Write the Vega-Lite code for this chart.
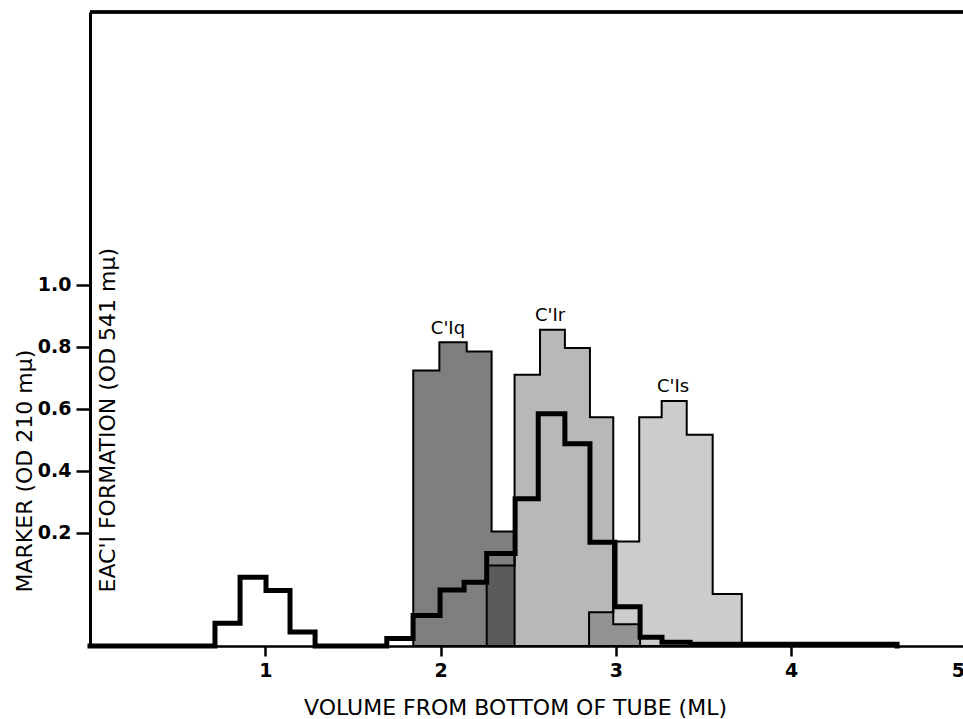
{
  "$schema": "https://vega.github.io/schema/vega-lite/v6.json",
  "width": 873,
  "height": 634,
  "autosize": {"type": "none"},
  "padding": {"left": 90, "top": 12, "right": 0, "bottom": 73},
  "background": "white",
  "config": {
    "view": {"stroke": null},
    "axis": {"grid": false, "domainColor": "black", "tickColor": "black", "labelColor": "black", "titleColor": "black", "labelFont": "DejaVu Sans", "titleFont": "DejaVu Sans"},
    "text": {"font": "DejaVu Sans"}
  },
  "datasets": {
    "bins": [
      {"series": "C'Iq", "x": 1.844, "h": 0.889},
      {"series": "C'Iq", "x": 1.993, "h": 0.98},
      {"series": "C'Iq", "x": 2.149, "h": 0.95},
      {"series": "C'Iq", "x": 2.291, "h": 0.369},
      {"series": "C'Iq", "x": 2.422, "h": 0},
      {"series": "C'Ir", "x": 2.263, "h": 0.26},
      {"series": "C'Ir", "x": 2.422, "h": 0.875},
      {"series": "C'Ir", "x": 2.567, "h": 1.02},
      {"series": "C'Ir", "x": 2.709, "h": 0.961},
      {"series": "C'Ir", "x": 2.852, "h": 0.738},
      {"series": "C'Ir", "x": 2.985, "h": 0.07},
      {"series": "C'Ir", "x": 3.138, "h": 0},
      {"series": "C'Is", "x": 2.847, "h": 0.109},
      {"series": "C'Is", "x": 2.985, "h": 0.337},
      {"series": "C'Is", "x": 3.133, "h": 0.738},
      {"series": "C'Is", "x": 3.261, "h": 0.79},
      {"series": "C'Is", "x": 3.404, "h": 0.681},
      {"series": "C'Is", "x": 3.552, "h": 0.168},
      {"series": "C'Is", "x": 3.718, "h": 0}
    ],
    "marker": [
      {"x": 0, "h": 0},
      {"x": 0.713, "h": 0.073},
      {"x": 0.856, "h": 0.222},
      {"x": 1.004, "h": 0.179},
      {"x": 1.141, "h": 0.045},
      {"x": 1.284, "h": 0},
      {"x": 1.693, "h": 0.024},
      {"x": 1.843, "h": 0.098},
      {"x": 1.997, "h": 0.181},
      {"x": 2.134, "h": 0.206},
      {"x": 2.263, "h": 0.298},
      {"x": 2.425, "h": 0.475},
      {"x": 2.557, "h": 0.749},
      {"x": 2.709, "h": 0.652},
      {"x": 2.852, "h": 0.335},
      {"x": 2.995, "h": 0.127},
      {"x": 3.138, "h": 0.028},
      {"x": 3.263, "h": 0.012},
      {"x": 3.423, "h": 0.006},
      {"x": 4.604, "h": 0}
    ],
    "labels": [
      {"x": 2.042, "h": 1.024, "text": "C'Iq"},
      {"x": 2.624, "h": 1.063, "text": "C'Ir"},
      {"x": 3.326, "h": 0.834, "text": "C'Is"}
    ]
  },
  "encoding": {
    "x": {
      "field": "x", "type": "quantitative",
      "scale": {"domain": [0, 5], "range": [0, 876.5], "nice": false, "zero": false},
      "axis": {
        "values": [1, 2, 3, 4, 5], "format": "d",
        "domainWidth": 2.5, "tickWidth": 2.5, "tickSize": 10,
        "labelFontSize": 19, "labelFontWeight": "bold", "labelPadding": 5,
        "labelOffset": {"condition": {"test": "datum.value == 5", "value": -2}, "value": 0},
        "title": "VOLUME FROM BOTTOM OF TUBE (ML)",
        "titleFontSize": 22, "titleFontWeight": "normal",
        "titleX": 425, "titleY": 68, "titleAlign": "center", "titleBaseline": "alphabetic", "titleAnchor": null
      }
    },
    "y": {
      "field": "h", "type": "quantitative",
      "scale": {"domain": [0, 2.045], "nice": false, "zero": true},
      "axis": {
        "values": [0.366, 0.566, 0.766, 0.966, 1.166],
        "labelExpr": "format(datum.value - 0.166, '.1f')",
        "domainWidth": 3, "tickWidth": 2.5, "tickSize": 14,
        "labelFontSize": 19, "labelFontWeight": "bold", "labelPadding": 5,
        "title": ["MARKER (OD 210 mμ)", "EAC'I FORMATION (OD 541 mμ)"],
        "titleFontSize": 22, "titleFontWeight": "normal",
        "titleAngle": 270, "titleAlign": "left", "titleBaseline": "alphabetic",
        "titleLineHeight": 83, "titleX": -59, "titleY": 580
      }
    }
  },
  "layer": [
    {
      "data": {"name": "bins"},
      "transform": [{"filter": "datum.series === \"C'Iq\""}],
      "mark": {"type": "area", "interpolate": "step-after", "fill": "black", "fillOpacity": 0.5, "stroke": "black", "strokeWidth": 2},
      "encoding": {"y": {"field": "h", "type": "quantitative", "stack": null}}
    },
    {
      "data": {"name": "bins"},
      "transform": [{"filter": "datum.series === \"C'Ir\""}],
      "mark": {"type": "area", "interpolate": "step-after", "fill": "black", "fillOpacity": 0.28, "stroke": "black", "strokeWidth": 2},
      "encoding": {"y": {"field": "h", "type": "quantitative", "stack": null}}
    },
    {
      "data": {"name": "bins"},
      "transform": [{"filter": "datum.series === \"C'Is\""}],
      "mark": {"type": "area", "interpolate": "step-after", "fill": "black", "fillOpacity": 0.2, "stroke": "black", "strokeWidth": 2},
      "encoding": {"y": {"field": "h", "type": "quantitative", "stack": null}}
    },
    {
      "data": {"name": "marker"},
      "mark": {"type": "line", "interpolate": "step-after", "color": "black", "strokeWidth": 5, "strokeCap": "square"},
      "encoding": {}
    },
    {
      "data": {"name": "labels"},
      "mark": {"type": "rule", "color": "black", "strokeWidth": 3},
      "encoding": {"x": null, "y": {"datum": 2.045}}
    },
    {
      "data": {"name": "labels"},
      "mark": {"type": "text", "fontSize": 18, "color": "black", "align": "center", "baseline": "middle"},
      "encoding": {"text": {"field": "text"}}
    }
  ]
}
